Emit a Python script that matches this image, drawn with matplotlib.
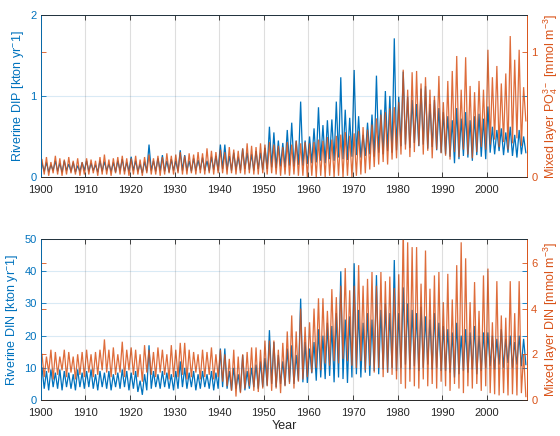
import numpy as np
import matplotlib
matplotlib.use("Agg")
import matplotlib.pyplot as plt
from matplotlib.lines import Line2D
from matplotlib.transforms import blended_transform_factory

# ---------------------------------------------------------------------------
# Data: annual seasonal maxima / minima, 1900-2008
# ---------------------------------------------------------------------------
years = np.arange(1900, 2009)

# Riverine DIP load [kton yr-1]
dip_peak = [
    0.17, 0.18, 0.15, 0.20, 0.17, 0.20, 0.16, 0.18, 0.14, 0.18,
    0.20, 0.17, 0.15, 0.20, 0.19, 0.16, 0.18, 0.20, 0.22, 0.18,
    0.25, 0.20, 0.16, 0.19, 0.40, 0.20, 0.23, 0.27, 0.20, 0.22,
    0.20, 0.33, 0.27, 0.20, 0.23, 0.21, 0.24, 0.20, 0.25, 0.26,
    0.40, 0.40, 0.26, 0.30, 0.25, 0.35, 0.30, 0.28, 0.32, 0.30,
    0.36, 0.62, 0.55, 0.45, 0.42, 0.58, 0.67, 0.45, 0.93, 0.45,
    0.50, 0.60, 0.86, 0.64, 0.70, 0.71, 0.93, 1.23, 0.83, 0.73,
    1.32, 0.75, 0.52, 0.67, 0.77, 1.25, 0.83, 1.06, 1.00, 1.71,
    0.99, 1.30, 0.99, 0.95, 0.90, 1.09, 1.12, 0.90, 0.95, 0.85,
    0.80, 0.75, 0.70, 0.85, 0.72, 0.80, 0.70, 0.75, 0.78, 0.72,
    0.87, 0.62, 0.58, 0.60, 0.55, 0.62, 0.52, 0.58, 0.50,
]
dip_trough = [
    0.07, 0.06, 0.08, 0.07, 0.06, 0.08, 0.07, 0.06, 0.07, 0.08,
    0.07, 0.08, 0.06, 0.07, 0.08, 0.07, 0.06, 0.08, 0.07, 0.07,
    0.08, 0.07, 0.05, 0.07, 0.08, 0.07, 0.08, 0.07, 0.06, 0.08,
    0.07, 0.08, 0.08, 0.07, 0.08, 0.09, 0.08, 0.07, 0.09, 0.08,
    0.10, 0.09, 0.08, 0.09, 0.08, 0.10, 0.09, 0.08, 0.10, 0.09,
    0.10, 0.12, 0.11, 0.13, 0.12, 0.14, 0.13, 0.15, 0.14, 0.16,
    0.17, 0.18, 0.20, 0.17, 0.22, 0.20, 0.24, 0.22, 0.21, 0.25,
    0.27, 0.24, 0.26, 0.28, 0.25, 0.30, 0.28, 0.32, 0.30, 0.33,
    0.38, 0.40, 0.36, 0.42, 0.38, 0.40, 0.35, 0.37, 0.33, 0.30,
    0.28, 0.25, 0.17, 0.22, 0.26, 0.24, 0.20, 0.27, 0.25, 0.22,
    0.30, 0.28, 0.32, 0.27, 0.30, 0.26, 0.24, 0.28, 0.30,
]

# Mixed layer phosphate [mmol m-3]
po4_peak = [
    0.14, 0.16, 0.12, 0.17, 0.15, 0.14, 0.16, 0.13, 0.15, 0.12,
    0.15, 0.14, 0.13, 0.16, 0.18, 0.14, 0.15, 0.16, 0.17, 0.15,
    0.15, 0.17, 0.14, 0.16, 0.18, 0.15, 0.17, 0.16, 0.19, 0.17,
    0.18, 0.20, 0.17, 0.19, 0.18, 0.20, 0.19, 0.23, 0.21, 0.20,
    0.22, 0.20, 0.24, 0.22, 0.21, 0.23, 0.27, 0.25, 0.24, 0.27,
    0.26, 0.28, 0.26, 0.25, 0.24, 0.28, 0.26, 0.29, 0.27, 0.28,
    0.27, 0.28, 0.30, 0.29, 0.32, 0.30, 0.33, 0.34, 0.36, 0.33,
    0.35, 0.37, 0.40, 0.38, 0.42, 0.47, 0.50, 0.52, 0.55, 0.56,
    0.60, 0.86, 0.70, 0.84, 0.85, 0.75, 0.80, 0.70, 0.65, 0.81,
    0.60, 0.77, 0.85, 0.97, 0.70, 0.96, 0.73, 0.68, 0.77, 0.70,
    1.02, 0.80, 0.89, 0.75, 0.83, 1.13, 0.94, 1.02, 0.72,
]
po4_trough = [
    0.02, 0.01, 0.03, 0.02, 0.01, 0.02, 0.03, 0.02, 0.01, 0.02,
    0.02, 0.03, 0.01, 0.02, 0.02, 0.01, 0.03, 0.02, 0.02, 0.01,
    0.02, 0.02, 0.01, 0.03, 0.02, 0.02, 0.01, 0.02, 0.03, 0.02,
    0.03, 0.02, 0.02, 0.03, 0.02, 0.03, 0.02, 0.03, 0.02, 0.03,
    0.03, 0.02, 0.03, 0.02, 0.03, 0.02, 0.03, 0.02, 0.02, 0.03,
    0.02, 0.03, 0.02, 0.01, 0.02, 0.01, 0.02, 0.01, 0.01, 0.00,
    0.01, 0.00, 0.01, 0.00, 0.01, 0.00, 0.01, 0.00, 0.01, 0.00,
    0.01, 0.02, 0.03, 0.06, 0.08, 0.10, 0.12, 0.10, 0.14, 0.15,
    0.18, 0.22, 0.16, 0.20, 0.25, 0.18, 0.21, 0.15, 0.22, 0.19,
    0.17, 0.14, 0.20, 0.16, 0.22, 0.18, 0.15, 0.20, 0.24, 0.22,
    0.26, 0.30, 0.24, 0.28, 0.22, 0.27, 0.31, 0.25, 0.45,
]

# Riverine DIN load [kton yr-1]
din_peak = [
    10.0, 9.0, 9.5, 8.5, 9.5, 9.0, 8.5, 8.0, 9.5, 8.5,
    9.0, 9.5, 8.0, 9.0, 8.5, 9.0, 8.0, 8.5, 9.5, 9.0,
    8.5, 9.0, 6.0, 8.0, 17.0, 9.0, 8.0, 9.0, 8.5, 8.0,
    9.0, 12.0, 10.0, 8.5, 9.0, 8.0, 9.0, 8.0, 9.0, 8.5,
    16.0, 16.0, 9.0, 10.0, 8.0, 14.0, 9.0, 10.0, 11.0, 12.0,
    13.0, 21.7, 18.0, 14.0, 12.0, 16.0, 17.0, 14.0, 31.5, 18.0,
    16.0, 18.0, 22.0, 20.0, 24.0, 23.0, 27.0, 40.0, 25.0, 26.0,
    42.5, 28.0, 24.0, 27.0, 25.0, 38.8, 28.0, 30.0, 27.0, 43.5,
    27.0, 35.0, 30.0, 28.0, 27.0, 29.0, 26.0, 25.0, 27.0, 24.0,
    23.0, 22.0, 21.0, 24.0, 20.0, 22.0, 21.0, 23.0, 20.0, 21.0,
    21.0, 20.0, 19.0, 22.0, 19.0, 20.0, 18.0, 20.0, 19.0,
]
din_trough = [
    3.5, 3.0, 4.0, 3.5, 3.0, 4.0, 3.5, 3.0, 4.0, 3.5,
    4.0, 3.5, 3.0, 4.0, 3.5, 3.0, 4.0, 3.5, 4.0, 3.0,
    3.5, 2.5, 1.6, 3.0, 3.5, 4.0, 3.5, 4.0, 3.5, 3.0,
    3.5, 4.0, 3.5, 4.0, 3.0, 3.5, 4.0, 3.5, 3.0, 3.5,
    4.0, 3.5, 3.0, 3.5, 2.5, 3.0, 3.5, 4.0, 3.5, 4.0,
    4.5, 5.0, 4.0, 5.0, 4.5, 5.5, 5.0, 6.0, 5.5, 5.3,
    8.3, 6.0, 7.0, 6.5, 7.5, 5.5, 7.0, 6.5, 5.3, 7.0,
    8.0, 7.0, 8.5, 7.5, 9.0, 8.0, 9.5, 8.5, 10.0, 9.0,
    10.0, 11.0, 9.5, 10.5, 9.0, 10.0, 11.0, 9.5, 10.0, 9.0,
    9.0, 8.5, 7.0, 8.0, 9.0, 8.5, 9.5, 8.0, 9.0, 10.0,
    10.5, 9.5, 11.0, 10.0, 11.5, 10.0, 11.0, 10.5, 11.0,
]

# Mixed layer DIN [mmol m-3]
ml_din_peak = [
    2.0, 1.9, 2.2, 2.1, 1.9, 2.2, 2.1, 1.9, 2.0, 2.1,
    2.2, 2.0, 2.1, 2.2, 2.65, 2.2, 2.3, 2.0, 2.55, 2.2,
    2.3, 2.2, 2.0, 2.4, 2.2, 2.1, 2.3, 2.2, 2.0, 2.4,
    2.2, 2.5, 2.5, 2.2, 2.1, 2.0, 2.2, 2.1, 2.3, 2.0,
    2.2, 2.0, 1.8, 2.2, 1.9, 2.0, 2.1, 2.3, 2.3, 2.2,
    2.6, 2.6, 2.6, 2.2, 2.5, 3.0, 3.7, 3.0, 4.0, 3.2,
    3.4, 4.0, 4.45, 4.45, 3.9, 4.85, 4.5, 5.0, 5.77, 4.8,
    5.0, 5.9, 5.0, 5.3, 5.6, 5.0, 5.6, 5.2, 5.4, 4.9,
    5.5, 7.6, 6.9, 6.69, 6.69, 5.09, 6.54, 4.87, 5.45, 5.6,
    4.28, 5.52, 4.4, 5.9, 6.9, 6.2, 4.28, 5.16, 3.9, 5.45,
    5.75, 3.4, 5.2, 3.7, 3.6, 5.2, 3.8, 5.2, 2.0,
]
ml_din_trough = [
    1.0, 1.2, 0.9, 1.1, 1.3, 1.0, 1.2, 0.9, 1.1, 1.0,
    1.2, 1.0, 1.1, 1.3, 1.2, 1.0, 1.1, 1.2, 1.0, 1.3,
    1.1, 1.0, 0.8, 1.2, 1.1, 1.0, 1.2, 1.1, 0.9, 1.0,
    1.0, 1.1, 0.9, 1.0, 1.2, 0.9, 1.0, 1.1, 0.9, 1.0,
    0.8, 0.6, 0.4, 0.15, 0.3, 0.5, 0.6, 0.4, 0.35, 0.5,
    0.6, 0.4, 0.5, 0.3, 0.6, 0.7, 0.5, 0.8, 0.9, 1.0,
    1.2, 1.4, 1.3, 1.6, 1.5, 1.7, 1.6, 1.8, 1.7, 1.5,
    1.4, 1.7, 1.3, 1.5, 1.2, 1.4, 1.0, 1.2, 1.1, 0.9,
    0.7, 0.5, 0.8, 0.6, 0.5, 0.9, 0.6, 0.7, 0.5, 0.8,
    0.6, 0.4, 0.7, 0.5, 0.3, 0.6, 0.5, 0.7, 0.4, 0.6,
    0.3, 0.25, 0.2, 0.3, 0.2, 0.25, 0.2, 0.3, 0.15,
]

x_ticks = list(range(1900, 2001, 10))

# ---------------------------------------------------------------------------
# Styling
# ---------------------------------------------------------------------------
BLUE = "#0072BD"
ORANGE = "#D95319"
DARK = "#262626"
TICK_FS = 8
LABEL_FS = 9

plt.rcParams["font.family"] = ["Liberation Sans", "DejaVu Sans"]
plt.rcParams["mathtext.fontset"] = "custom"
plt.rcParams["mathtext.rm"] = "Liberation Sans"
plt.rcParams["mathtext.it"] = "Liberation Sans:italic"
plt.rcParams["mathtext.bf"] = "Liberation Sans:bold"


def seasonal_series(peaks, troughs):
    """Alternate each year's seasonal maximum and minimum in time order."""
    t = np.column_stack([years + 0.25, years + 0.75]).ravel()
    v = np.column_stack([peaks, troughs]).ravel()
    return t, v


def panel(rect, left_peak, left_trough, right_peak, right_trough,
          left_lim, left_ticks, right_lim, right_ticks,
          left_label, right_label, xlabel=None):
    ax = fig.add_axes(rect)
    ax2 = ax.twinx()

    t, v = seasonal_series(left_peak, left_trough)
    ax.plot(t, v, color=BLUE, lw=0.9, solid_joinstyle="miter")
    t, v = seasonal_series(right_peak, right_trough)
    ax2.plot(t, v, color=ORANGE, lw=0.9, alpha=0.85, solid_joinstyle="miter")

    ax.set_xlim(1900, 2009)
    ax.set_ylim(*left_lim)
    ax2.set_ylim(*right_lim)
    ax.set_xticks(x_ticks)
    ax.set_yticks(left_ticks)
    ax2.set_yticks(right_ticks)
    ax.set_yticklabels([f"{v:g}" for v in left_ticks])
    ax2.set_yticklabels([f"{v:g}" for v in right_ticks])

    # translucent grid drawn above both data sets
    for yv in left_ticks:
        ax2.add_line(Line2D([0, 1], [yv, yv], color=BLUE, alpha=0.15, lw=0.8,
                            transform=blended_transform_factory(ax2.transAxes, ax.transData),
                            zorder=5))
    for xv in x_ticks:
        ax2.axvline(xv, color=DARK, alpha=0.15, lw=0.8, zorder=5)

    ax.tick_params(axis="x", direction="in", length=3.5, width=0.6,
                   top=True, bottom=True, colors=DARK, labelsize=TICK_FS, pad=6)
    ax.tick_params(axis="y", direction="in", length=3.5, width=0.6,
                   left=True, right=True, colors=BLUE, labelsize=TICK_FS, pad=3)
    ax2.tick_params(axis="y", direction="in", length=3.5, width=0.6,
                    left=True, right=True, labelleft=False, labelright=True,
                    colors=ORANGE, labelsize=TICK_FS, pad=3)

    for a in (ax, ax2):
        a.spines["left"].set_color(BLUE)
        a.spines["right"].set_color(ORANGE)
        a.spines["top"].set_color(DARK)
        a.spines["bottom"].set_color(DARK)
        for s in a.spines.values():
            s.set_linewidth(0.6)

    ax.set_ylabel(left_label, color=BLUE, fontsize=LABEL_FS, labelpad=3)
    ax2.set_ylabel(right_label, color=ORANGE, fontsize=LABEL_FS, labelpad=3)
    if xlabel:
        ax.set_xlabel(xlabel, color=DARK, fontsize=LABEL_FS, labelpad=1)
    return ax, ax2


fig = plt.figure(figsize=(5.6, 4.36), dpi=100)

panel([0.073, 0.594, 0.868, 0.372], dip_peak, dip_trough, po4_peak, po4_trough,
      (0, 2), [0, 1, 2], (0, 1.3), [0, 1],
      "Riverine DIP [kton yr$^{-}$1]",
      "Mixed layer PO$_4^{3-}$ [mmol m$^{-3}$]")

panel([0.073, 0.0826, 0.868, 0.369], din_peak, din_trough, ml_din_peak, ml_din_trough,
      (0, 50), [0, 10, 20, 30, 40, 50], (0, 7.04), [0, 2, 4, 6],
      "Riverine DIN [kton yr$^{-}$1]",
      "Mixed layer DIN [mmol m$^{-3}$]", xlabel="Year")

fig.savefig("out.png", dpi=100)
